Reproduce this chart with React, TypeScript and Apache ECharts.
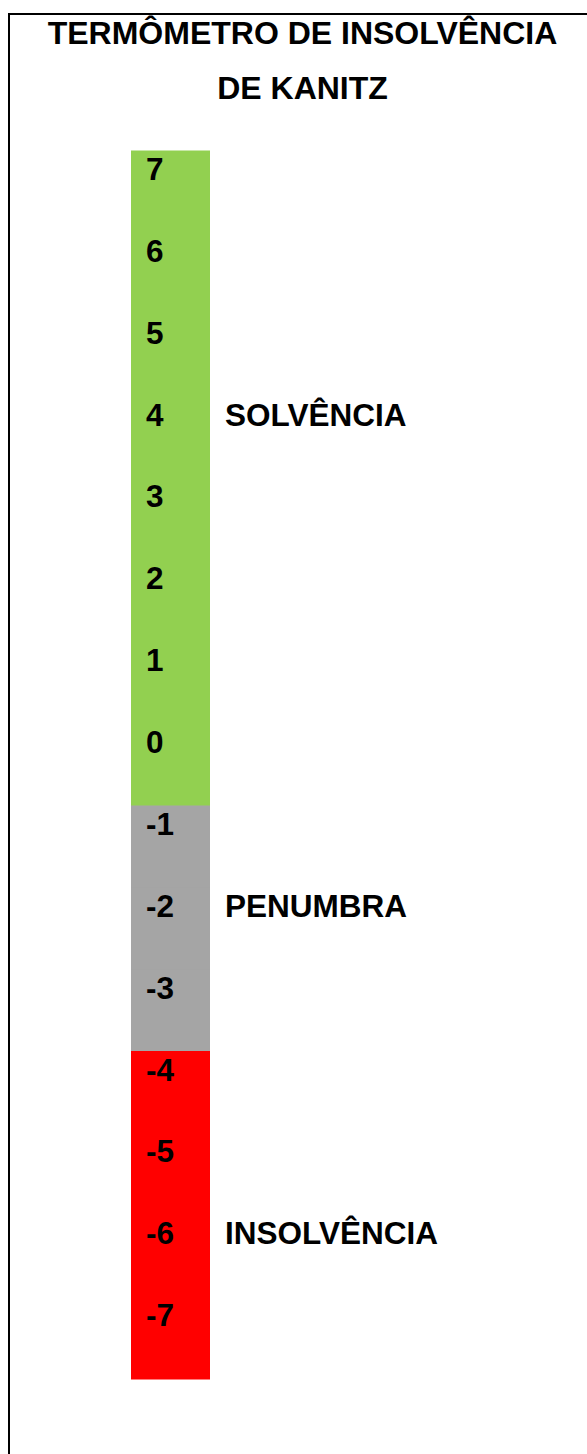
import React, { useEffect, useRef } from "react";
import * as echarts from "echarts";

const titleLines = ["TERMÔMETRO DE INSOLVÊNCIA", "DE KANITZ"];
const scores = [7, 6, 5, 4, 3, 2, 1, 0, -1, -2, -3, -4, -5, -6, -7];
const zoneNames = ["SOLVÊNCIA", "PENUMBRA", "INSOLVÊNCIA"];
const zoneLowerBounds = [0, -3, -7];
const zoneLabelScores = [4, -2, -6];
const zoneColors = ["#92D050", "#A5A5A5", "#FF0000"];

const FONT = '"Liberation Sans", Arial, sans-serif';

function zoneOf(s: number): number {
  for (let i = 0; i < zoneLowerBounds.length; i++) {
    if (s >= zoneLowerBounds[i]) return i;
  }
  return zoneLowerBounds.length - 1;
}

export default function App() {
  const ref = useRef<HTMLDivElement>(null);

  useEffect(() => {
    if (!ref.current) return;
    const chart = echarts.init(ref.current, null, { renderer: "svg" });
    const cats = scores.map((s) => String(s));
    chart.setOption({
      animation: false,
      backgroundColor: "#ffffff",
      grid: { left: 131, top: 151, width: 79, height: 1228 },
      xAxis: { type: "value", min: 0, max: 1, show: false },
      yAxis: {
        type: "category",
        data: cats,
        inverse: true,
        show: false,
      },
      graphic: [
        {
          type: "rect",
          shape: { x: 9, y: 14, width: 700, height: 1600 },
          style: { fill: "none", stroke: "#000000", lineWidth: 2 },
          silent: true,
        },
        ...titleLines.map((t, i) => ({
          type: "text",
          x: 302.5,
          y: 33 + i * 55,
          style: {
            text: t,
            fill: "#000000",
            fontSize: 32,
            fontWeight: "bold",
            fontFamily: FONT,
            align: "center",
            verticalAlign: "middle",
            textAlign: "center",
            textVerticalAlign: "middle",
          },
        })),
      ],
      series: [
        {
          type: "custom",
          encode: { y: 0 },
          data: scores.map((s, i) => [i, zoneOf(s), s]),
          renderItem: (params: any, api: any) => {
            const cat = api.value(0);
            const zone = api.value(1);
            const score = api.value(2);
            const p0 = api.coord([0, cat]);
            const p1 = api.coord([1, cat]);
            const h = api.size([0, 1])[1];
            const top = p0[1] - h / 2;
            return {
              type: "group",
              children: [
                {
                  type: "rect",
                  shape: {
                    x: p0[0],
                    y: top - 0.5,
                    width: p1[0] - p0[0],
                    height: h + 1,
                  },
                  style: { fill: zoneColors[zone] },
                },
                {
                  type: "text",
                  x: p0[0] + 15,
                  y: top + 18,
                  style: {
                    text: String(score),
                    fill: "#000000",
                    fontSize: 31.5,
                    fontWeight: "bold",
                    fontFamily: FONT,
                    align: "left",
                    verticalAlign: "middle",
                    textAlign: "left",
                    textVerticalAlign: "middle",
                  },
                },
              ],
            };
          },
          silent: true,
        },
        {
          type: "scatter",
          symbolSize: 0,
          itemStyle: { opacity: 1 },
          data: zoneLabelScores.map((s, i) => ({
            value: [1, String(s)],
            name: zoneNames[i],
          })),
          label: {
            show: true,
            position: "right",
            distance: 15,
            offset: [0, -23],
            formatter: "{b}",
            color: "#000000",
            opacity: 1,
            fontSize: 31.5,
            fontWeight: "bold",
            fontFamily: FONT,
          },
          silent: true,
        },
      ],
    });
    return () => chart.dispose();
  }, []);

  return (
    <div
      ref={ref}
      style={{ position: "absolute", left: 0, top: 0, width: 587, height: 1454 }}
    />
  );
}
